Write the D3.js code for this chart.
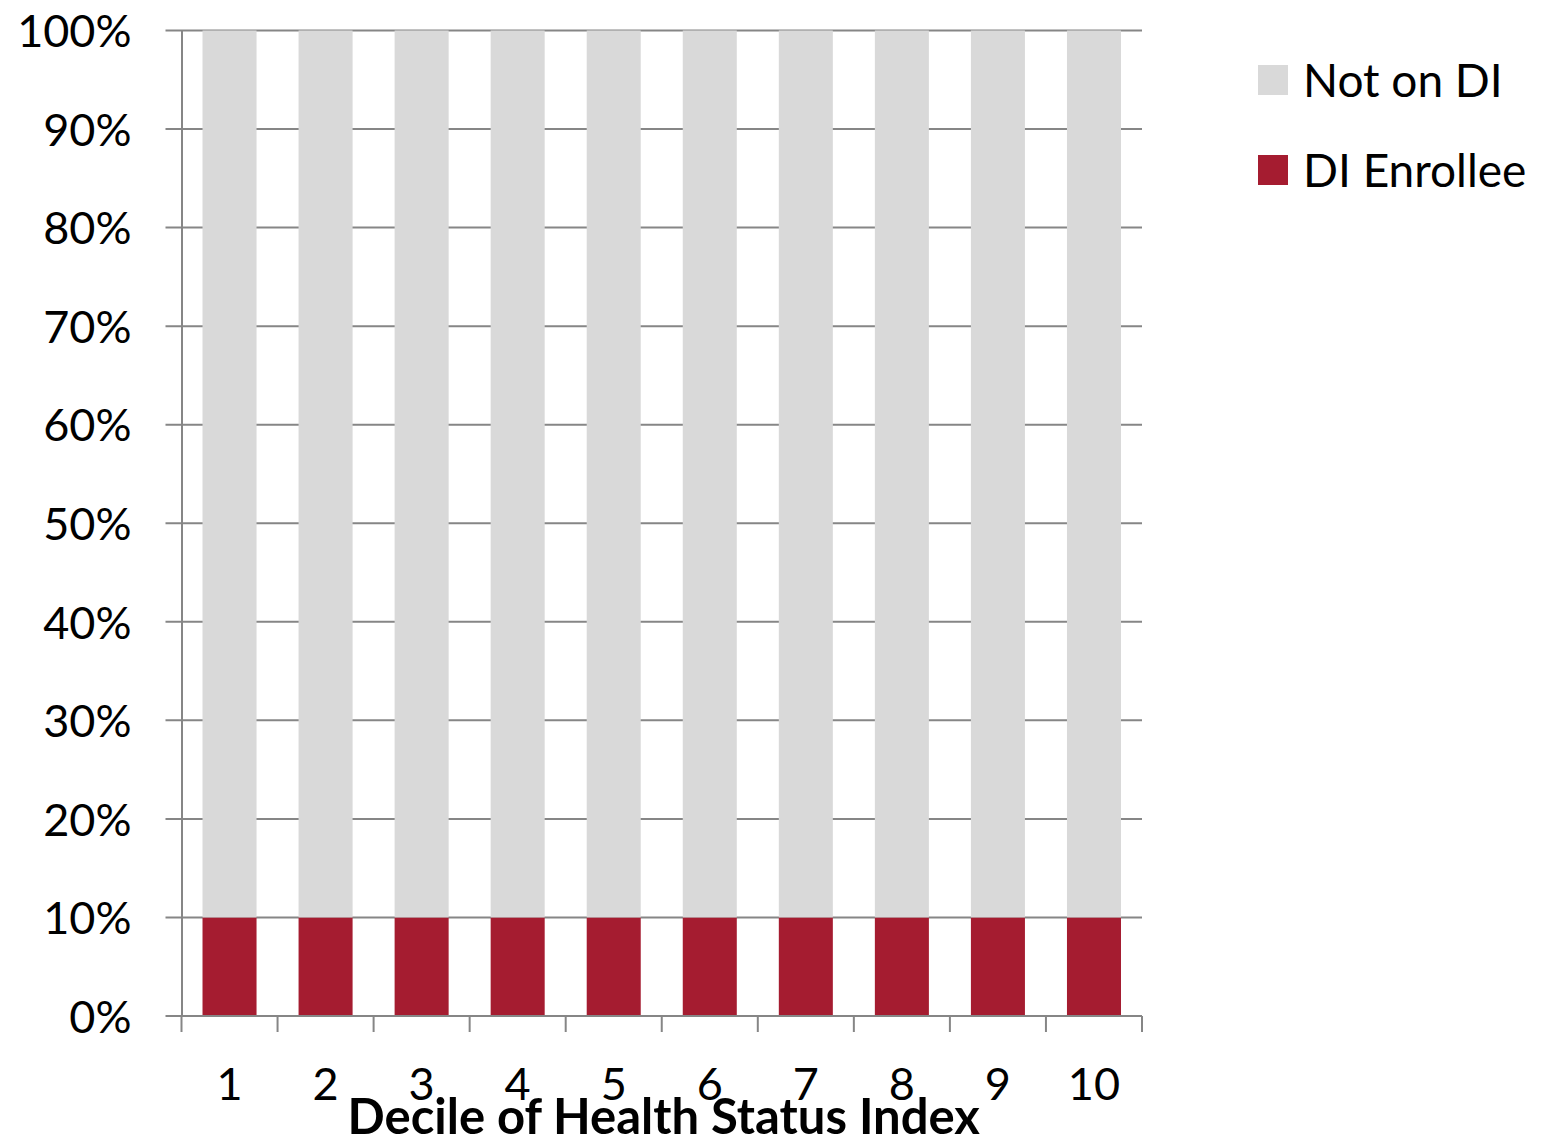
<!DOCTYPE html>
<html>
<head>
<meta charset="utf-8">
<script src="https://cdn.jsdelivr.net/npm/d3@7"></script>
<style>
  html, body { margin: 0; padding: 0; background: #fff; }
  svg { display: block; }
  text { font-family: Lato, "Open Sans", sans-serif; fill: #000; }
</style>
</head>
<body>
<svg id="chart" width="1542" height="1140"></svg>
<script>
// Share of each health-status decile enrolled in DI vs. not
const deciles = ["1", "2", "3", "4", "5", "6", "7", "8", "9", "10"];
const diEnrollee = [0.10, 0.10, 0.10, 0.10, 0.10, 0.10, 0.10, 0.10, 0.10, 0.10];
const notOnDI = [0.90, 0.90, 0.90, 0.90, 0.90, 0.90, 0.90, 0.90, 0.90, 0.90];
const yTicks = [0, 0.1, 0.2, 0.3, 0.4, 0.5, 0.6, 0.7, 0.8, 0.9, 1.0];
const seriesNames = ["DI Enrollee", "Not on DI"];
const seriesColors = { "DI Enrollee": "#A51C30", "Not on DI": "#D9D9D9" };

const rows = deciles.map((d, i) => ({ decile: d, "DI Enrollee": diEnrollee[i], "Not on DI": notOnDI[i] }));
const stacked = d3.stack().keys(seriesNames)(rows);

const svg = d3.select("#chart");
const m = { left: 181.5, right: 1142, top: 30.5, bottom: 1016 };
const fontSize = 45;

const x = d3.scaleBand().domain(deciles).range([m.left, m.right]).paddingInner(0.4375).paddingOuter(0.21875);
const y = d3.scaleLinear().domain([0, 1]).range([m.bottom, m.top]);

const axisColor = "#868686";

// horizontal gridlines with outward tick stubs
svg.append("g").selectAll("line").data(yTicks).join("line")
  .attr("x1", m.left - 16).attr("x2", m.right)
  .attr("y1", d => y(d)).attr("y2", d => y(d))
  .attr("stroke", axisColor).attr("stroke-width", 2);

// stacked bars
svg.append("g").selectAll("g").data(stacked).join("g")
  .attr("fill", s => seriesColors[s.key])
  .selectAll("rect").data(s => s).join("rect")
  .attr("x", d => x(d.data.decile))
  .attr("width", x.bandwidth())
  .attr("y", d => y(d[1]))
  .attr("height", d => y(d[0]) - y(d[1]));

// y axis
const yAxis = d3.axisLeft(y).tickValues(yTicks).tickFormat(d3.format(".0%")).tickSize(0).tickPadding(50);
const gy = svg.append("g").attr("transform", `translate(${m.left},0)`).call(yAxis);
gy.select(".domain").attr("stroke", axisColor).attr("stroke-width", 2);
gy.selectAll("text").attr("font-size", fontSize).attr("font-family", "Lato, sans-serif").attr("dy", "0.36em");

// x axis line and category boundary ticks
const boundaries = deciles.map(d => x(d) - x.step() * x.paddingInner() / 2).concat([m.right]);
boundaries[0] = m.left;
svg.append("line").attr("x1", m.left).attr("x2", m.right).attr("y1", m.bottom).attr("y2", m.bottom)
  .attr("stroke", axisColor).attr("stroke-width", 2);
svg.append("g").selectAll("line").data(boundaries).join("line")
  .attr("x1", d => d).attr("x2", d => d)
  .attr("y1", m.bottom).attr("y2", m.bottom + 16)
  .attr("stroke", axisColor).attr("stroke-width", 2);

// category labels
svg.append("g").selectAll("text").data(deciles).join("text")
  .attr("x", d => x(d) + x.bandwidth() / 2)
  .attr("y", 1100)
  .attr("text-anchor", "middle")
  .attr("font-size", fontSize)
  .text(d => d);

// axis title
svg.append("text")
  .attr("x", (m.left + m.right) / 2 + 2)
  .attr("y", 1134)
  .attr("text-anchor", "middle")
  .attr("font-size", 49)
  .attr("font-weight", "bold")
  .text("Decile of Health Status Index");

// legend
const legendItems = ["Not on DI", "DI Enrollee"];
const lg = svg.append("g").selectAll("g").data(legendItems).join("g")
  .attr("transform", (d, i) => `translate(1258, ${65 + i * 90})`);
lg.append("rect").attr("width", 30).attr("height", 30).attr("fill", d => seriesColors[d]);
lg.append("text").attr("x", 45).attr("y", 15).attr("dy", "0.36em").attr("font-size", 46).text(d => d);
</script>
</body>
</html>
